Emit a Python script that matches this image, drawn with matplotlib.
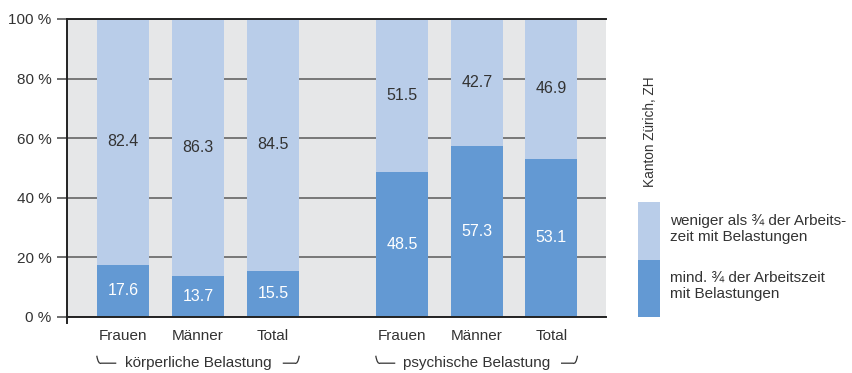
import matplotlib.pyplot as plt
from matplotlib.patches import Rectangle
from matplotlib.path import Path
from matplotlib.patches import PathPatch

plt.rcParams['font.family'] = ['Liberation Sans Narrow', 'Liberation Sans', 'DejaVu Sans']

# data
categories = ["Frauen", "Männer", "Total", "Frauen", "Männer", "Total"]
groups = ["körperliche Belastung", "psychische Belastung"]
mind_34 = [17.6, 13.7, 15.5, 48.5, 57.3, 53.1]
weniger_34 = [82.4, 86.3, 84.5, 51.5, 42.7, 46.9]
yticks = [0, 20, 40, 60, 80, 100]

light = "#b9cde9"
dark = "#6399d3"
bg = "#e6e7e8"
txt = "#333333"

xpos = [0, 1, 2, 3.72, 4.72, 5.71]
width = 0.69

fig = plt.figure(figsize=(8.53, 3.73), dpi=100)
ax = fig.add_axes([67 / 853, 1 - 317 / 373, (606 - 67) / 853, (317 - 19) / 373])
ax.set_facecolor(bg)

ax.bar(xpos, mind_34, width=width, color=dark, zorder=3)
ax.bar(xpos, weniger_34, width=width, bottom=mind_34, color=light, zorder=3)

for x, d, l in zip(xpos, mind_34, weniger_34):
    ax.text(x, d / 2, f"{d:.1f}", ha="center", va="center", color="white", fontsize=11.5, zorder=4)
    ax.text(x, d + l / 2, f"{l:.1f}", ha="center", va="center", color=txt, fontsize=11.5, zorder=4)

ax.set_xlim(-0.747, 6.44)
ax.set_ylim(0, 100)
ax.set_yticks(yticks)
ax.set_yticklabels([f"{v} %" for v in yticks], fontsize=11, color=txt)
ax.yaxis.grid(True, color="#777777", linewidth=1.4, zorder=1)
ax.tick_params(axis="y", length=7, width=1.2, color="#555555", pad=4)
ax.set_xticks(xpos)
ax.set_xticklabels(categories, fontsize=11, color=txt)
ax.tick_params(axis="x", length=0, pad=9)

ax.spines["right"].set_visible(False)
for side in ["top", "left", "bottom"]:
    ax.spines[side].set_color("#222222")
    ax.spines[side].set_linewidth(1.4)
    ax.spines[side].set_zorder(5)

# small extension of the left axis below zero
fig.add_artist(plt.Line2D([67 / 853, 67 / 853], [1 - 317 / 373, 1 - 323 / 373],
                          color="#222222", linewidth=1.4))

# group labels with bracket hooks
tr = ax.get_xaxis_transform()
group_spans = [(xpos[0], xpos[2]), (xpos[3], xpos[5])]
ybr = -0.155
for name, (a, b) in zip(groups, group_spans):
    mid = (a + b) / 2
    ax.text(mid, ybr, name, transform=tr, ha="center", va="center", fontsize=11,
            color=txt, clip_on=False)
    left = Path([(a - 0.35, ybr + 0.025), (a - 0.33, ybr - 0.005), (a - 0.29, ybr),
                 (a - 0.09, ybr)],
                [Path.MOVETO, Path.CURVE3, Path.CURVE3, Path.LINETO])
    right = Path([(b + 0.35, ybr + 0.025), (b + 0.33, ybr - 0.005), (b + 0.29, ybr),
                  (b + 0.13, ybr)],
                 [Path.MOVETO, Path.CURVE3, Path.CURVE3, Path.LINETO])
    for p in (left, right):
        ax.add_patch(PathPatch(p, transform=tr, fill=False, edgecolor=txt,
                               linewidth=0.9, clip_on=False))

# legend
lx, lw = 638 / 853, 22 / 853
fig.add_artist(Rectangle((lx, 1 - 260 / 373), lw, 58 / 373, transform=fig.transFigure,
                         facecolor=light, edgecolor="none"))
fig.add_artist(Rectangle((lx, 1 - 317 / 373), lw, 57 / 373, transform=fig.transFigure,
                         facecolor=dark, edgecolor="none"))
fig.text(670 / 853, 1 - 229 / 373, "weniger als ¾ der Arbeits-\nzeit mit Belastungen",
         ha="left", va="center", fontsize=11, color=txt, linespacing=1.2)
fig.text(670 / 853, 1 - 286 / 373, "mind. ¾ der Arbeitszeit\nmit Belastungen",
         ha="left", va="center", fontsize=11, color=txt, linespacing=1.2)
fig.text(650 / 853, 1 - 187 / 373, "Kanton Zürich, ZH", rotation=90,
         ha="center", va="bottom", fontsize=9.8, color=txt)

fig.savefig("out.png", dpi=100)
